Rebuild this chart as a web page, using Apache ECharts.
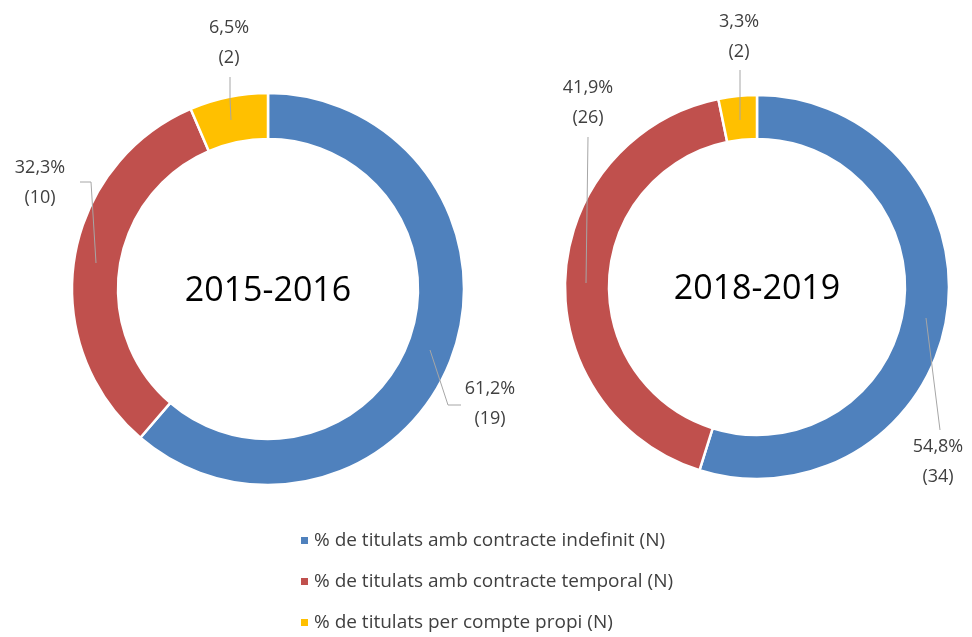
<!DOCTYPE html>
<html>
<head>
<meta charset="utf-8">
<script src="https://cdn.jsdelivr.net/npm/echarts@6/dist/echarts.min.js"></script>
<style>html,body{margin:0;padding:0;background:#fff}#c{width:972px;height:637px}</style>
</head>
<body>
<div id="c"></div>
<script>
const categories = ['% de titulats amb contracte indefinit (N)', '% de titulats amb contracte temporal (N)', '% de titulats per compte propi (N)'];
const periods = ['2015-2016', '2018-2019'];
const counts2015 = [19, 10, 2];
const pctLabels2015 = ['61,2%', '32,3%', '6,5%'];
const counts2018 = [34, 26, 2];
const pctLabels2018 = ['54,8%', '41,9%', '3,3%'];
const colors = ['#4F81BD', '#C0504D', '#FFC000'];

const FONT = 'Open Sans';
// label layout (text anchor + leader line), pixels
const labelLayoutPos = [
  [
    {x: 490, y: 404, line: [[430, 350], [448, 405], [461, 405]]},
    {x: 40, y: 183, line: [[96, 263], [91, 182], [80, 182]]},
    {x: 229, y: 43, line: [[231, 120], [230, 98], [230, 77]]}
  ],
  [
    {x: 938, y: 462, line: [[926, 318], [933, 374], [940, 430]]},
    {x: 588, y: 103, line: [[586, 283], [587, 210], [588, 137]]},
    {x: 739, y: 37, line: [[740, 120], [740, 95], [740, 70]]}
  ]
];

function mkData(counts) {
  return categories.map((n, i) => ({name: n, value: counts[i]}));
}
function ringSeries(counts, center, radius) {
  return {
    type: 'pie',
    center: center,
    radius: radius,
    startAngle: 90,
    clockwise: true,
    itemStyle: {borderColor: '#fff', borderWidth: 2.5},
    label: {show: false},
    labelLine: {show: false},
    emphasis: {disabled: true},
    silent: true,
    data: mkData(counts)
  };
}
function labelSeries(idx, counts, pcts, center, radius) {
  return {
    type: 'pie',
    z: 5,
    center: center,
    radius: radius,
    startAngle: 90,
    clockwise: true,
    avoidLabelOverlap: false,
    silent: true,
    itemStyle: {color: 'rgba(0,0,0,0)', borderWidth: 0},
    label: {
      show: true,
      position: 'outside',
      formatter: p => pcts[p.dataIndex] + '\n(' + counts[p.dataIndex] + ')',
      fontFamily: FONT,
      fontSize: 18,
      lineHeight: 30,
      color: '#404040',
      align: 'center'
    },
    labelLine: {show: true, lineStyle: {color: '#a6a6a6', width: 1}},
    labelLayout: function (p) {
      const l = labelLayoutPos[idx][p.dataIndex];
      return {x: l.x, y: l.y, align: 'center', verticalAlign: 'middle', labelLinePoints: l.line};
    },
    emphasis: {disabled: true},
    data: mkData(counts)
  };
}

const chart = echarts.init(document.getElementById('c'), null, {renderer: 'canvas'});
chart.setOption({
  animation: false,
  color: colors,
  legend: {
    orient: 'vertical',
    left: 294,
    top: 525,
    height: 120,
    icon: 'rect',
    itemWidth: 9,
    itemHeight: 9,
    itemGap: 20,
    textStyle: {fontFamily: FONT, fontSize: 19, color: '#404040', lineHeight: 21},
    data: categories.map((n, i) => ({name: n, itemStyle: {color: colors[i]}}))
  },
  graphic: [
    {type: 'text', x: 268, y: 291, style: {text: periods[0], fontFamily: FONT, fontSize: 34, fill: '#000', textAlign: 'center', textVerticalAlign: 'middle'}},
    {type: 'text', x: 757, y: 289, style: {text: periods[1], fontFamily: FONT, fontSize: 34, fill: '#000', textAlign: 'center', textVerticalAlign: 'middle'}}
  ],
  series: [
    ringSeries(counts2015, [268, 289], [150, 196]),
    ringSeries(counts2018, [757, 287], [148, 192]),
    labelSeries(0, counts2015, pctLabels2015, [268, 289], [150, 196]),
    labelSeries(1, counts2018, pctLabels2018, [757, 287], [148, 192])
  ]
});
</script>
</body>
</html>
